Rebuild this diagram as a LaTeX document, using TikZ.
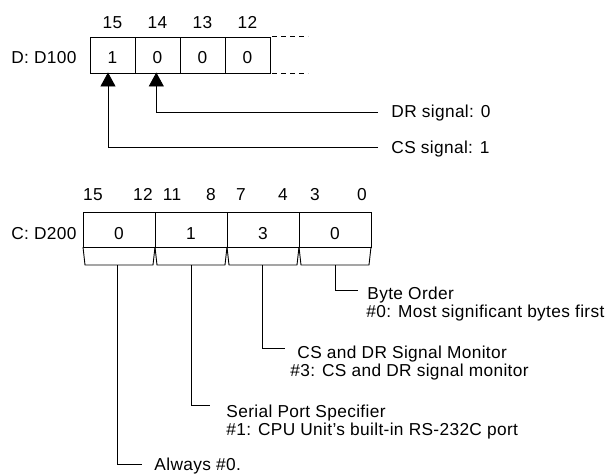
\documentclass[tikz,border=0pt]{standalone}
\usepackage{fontspec}
\setmainfont{Liberation Sans}[LetterSpace=2]
\usetikzlibrary{arrows.meta}
\begin{document}
\begin{tikzpicture}[x=1pt,y=-1pt,
  line width=0.9pt,
  every node/.style={font=\fontsize{17.3}{20}\selectfont, inner sep=0pt},
  cell/.style={draw, minimum width=45pt, minimum height=36pt, anchor=center},
  wcell/.style={draw, minimum width=72pt, minimum height=35pt, anchor=center},
  lbl/.style={anchor=base west},
  ptr/.style={-{Triangle[width=15pt,length=14pt]}}
]
\useasboundingbox (0,0) rectangle (610,474);
% ---------- D: D100 ----------
\node[anchor=base east] (dname) at (77,63) {D: D100};
\node[cell] (d15) at (112.5,55) {};
\node[cell] (d14) at (157.5,55) {};
\node[cell] (d13) at (202.5,55) {};
\node[cell] (d12) at (247.5,55) {};
\node[anchor=base] at (112.5,63) {1};
\node[anchor=base] at (157.5,63) {0};
\node[anchor=base] at (202.5,63) {0};
\node[anchor=base] at (247.5,63) {0};
\node[anchor=base] (b15) at (112.5,28) {15};
\node[anchor=base] (b14) at (157.5,28) {14};
\node[anchor=base] (b13) at (202.5,28) {13};
\node[anchor=base] (b12) at (247.5,28) {12};
\draw[dash pattern=on 5pt off 4pt] (d12.north east) ++(2,0) -- ++(36,0);
\draw[dash pattern=on 5pt off 4pt] (d12.south east) ++(2,0) -- ++(36,0);
% signals
\node[lbl] (dr) at (391,117) {DR signal: 0};
\node[lbl] (cs) at (391,153) {CS signal: 1};
\coordinate (drend) at (378,112);
\coordinate (csend) at (378,147);
\draw[ptr] (drend) -| ([xshift=-1.2pt,yshift=1pt]d14.south);
\draw[ptr] (csend) -| ([xshift=-4.5pt,yshift=1pt]d15.south);
% ---------- C: D200 ----------
\node[anchor=base east] (cname) at (77,239) {C: D200};
\node[wcell] (c1) at (119,229.5) {};
\node[wcell] (c2) at (191,229.5) {};
\node[wcell] (c3) at (263,229.5) {};
\node[wcell] (c4) at (335,229.5) {};
\node[anchor=base] at (119,239) {0};
\node[anchor=base] at (191,239) {1};
\node[anchor=base] at (263,239) {3};
\node[anchor=base] at (335,239) {0};
\foreach \x/\t in {93/15,143/12,172/11,211/8,241/7,283/4,315/3,362/0}
  \node[anchor=base] at (\x,200.5) {\t};
\foreach \a/\b in {83/155,155/227,227/299,299/371}
  \draw (\a,247) -- (\a+2,265) -- (\b-2,265) -- (\b,247);
% annotations
\node[lbl] (bo) at (367,299) {Byte Order};
\node[lbl] (bo2) at (366,317) {\#0: Most significant bytes first};
\node[lbl] (mon) at (297,358) {CS and DR Signal Monitor};
\node[lbl] (mon2) at (290,376) {\#3: CS and DR signal monitor};
\node[lbl] (sp) at (226,417) {Serial Port Specifier};
\node[lbl] (sp2) at (226,435) {\#1: CPU Unit’s built-in RS-232C port};
\node[lbl] (al) at (154,470) {Always \#0.};
\coordinate (c1b) at (117,265);
\coordinate (c2b) at (191,265);
\coordinate (c3b) at (262,265);
\coordinate (c4b) at (335,265);
\draw (c4b) |- (358,290);
\draw (c3b) |- (285,348);
\draw (c2b) |- (210,405);
\draw (c1b) |- (142,464);
\end{tikzpicture}
\end{document}
